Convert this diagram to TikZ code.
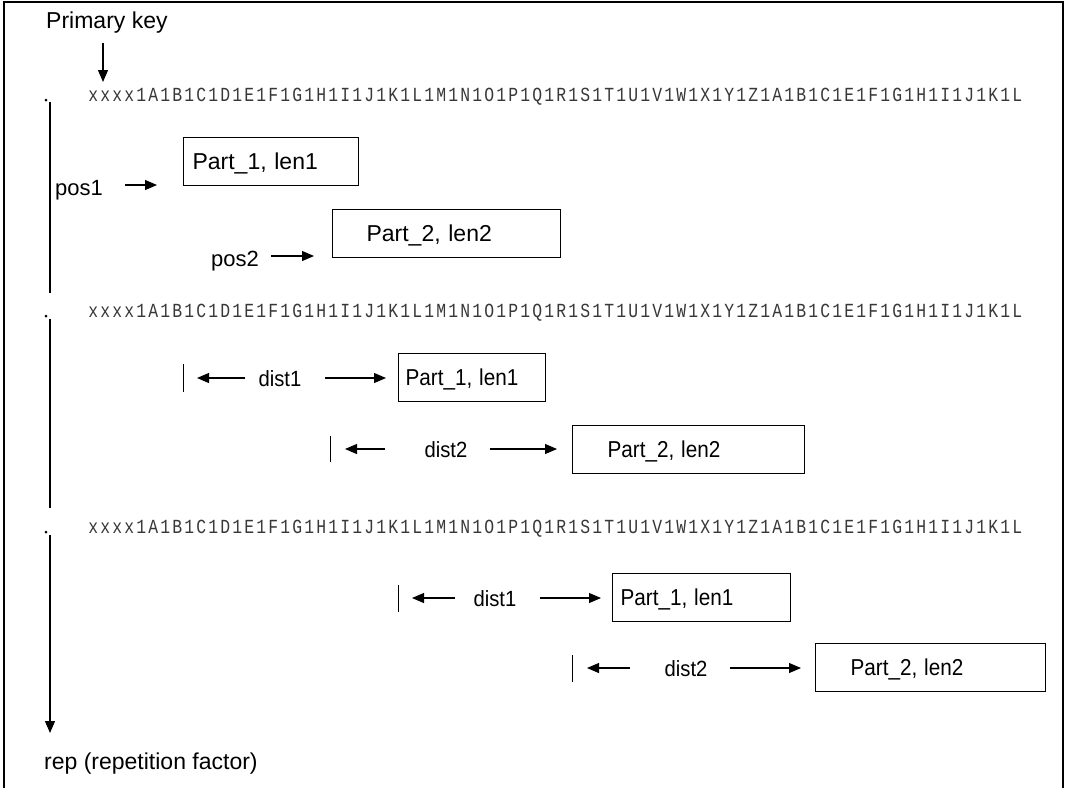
\documentclass[tikz,border=0pt]{standalone}
\usepackage{fontspec}
\setmainfont{Liberation Sans}
\newfontfamily\codefont{Liberation Mono}
\usetikzlibrary{arrows.meta}

% key string: narrow glyphs set on a fixed 12pt character pitch
\def\pitchchars#1{\ifx#1\relax\else\makebox[12pt][c]{\scalebox{0.82}[1]{#1}}\expandafter\pitchchars\fi}
\newcommand\keystring{\pitchchars xxxx1A1B1C1D1E1F1G1H1I1J1K1L1M1N1O1P1Q1R1S1T1U1V1W1X1Y1Z1A1B1C1E1F1G1H1I1J1K1L\relax}

\tikzset{
  lbl/.style={font=\fontsize{23}{27}\selectfont, inner sep=0pt, anchor=base west},
  plbl/.style={font=\fontsize{22}{26}\selectfont, inner sep=0pt, anchor=base west},
  dlbl/.style={font=\fontsize{22}{26}\selectfont, inner sep=0pt, anchor=base},
  keyline/.style={font=\codefont\fontsize{20}{22}\selectfont, text=black!78, inner sep=0pt, anchor=base west},
  partbox/.style={draw, line width=1.1pt, anchor=north west, minimum height=48pt,
    inner ysep=0pt, text depth=0pt, align=left, font=\fontsize{23}{27}\selectfont},
  ptr/.style={line width=1.1pt, -{Triangle[length=12pt,width=10pt]}},
  tick/.style={line width=0.9pt},
  axis/.style={line width=1.1pt},
}

\begin{document}
\begin{tikzpicture}[x=1pt, y=-1pt]
\useasboundingbox (0,0) rectangle (1067,788);

% open frame
\draw[line width=1.1pt] (4,788) -- (4,2) -- (1063,2) -- (1063,788);

% primary key marker
\node[lbl] (pk) at (46,28) {Primary key};
\coordinate (pktop) at (103,43);
\coordinate (pkend) at (103,82);
\draw[ptr] (pktop) -- (pkend);

% the three key lines
\node[keyline] (k1) at (87,101) {\keystring};
\node[keyline] (k2) at (87,317) {\keystring};
\node[keyline] (k3) at (87,533) {\keystring};
\fill (46,100) circle (1.5);
\fill (46,316) circle (1.5);
\fill (46,532) circle (1.5);

% repetition axis
\coordinate (a1) at (50,102);  \coordinate (b1) at (50,293);
\coordinate (a2) at (50,319);  \coordinate (b2) at (50,508);
\coordinate (a3) at (50,535);  \coordinate (b3) at (50,733);
\draw[axis] (a1) -- (b1);
\draw[axis] (a2) -- (b2);
\draw[ptr] (a3) -- (b3);
\node[lbl] (rep) at (44,769) {rep (repetition factor)};

% first repetition: absolute positions
\node[partbox, inner xsep=9pt, text width=157pt] (p11) at (183,137) {Part\_1, len1};
\node[plbl] (pos1) at (55,195) {pos1};
\coordinate (s1) at (125,185); \coordinate (e1) at (157,185);
\draw[ptr] (s1) -- (e1);

\node[partbox, inner xsep=34pt, text width=160pt] (p12) at (332,209) {Part\_2, len2};
\node[plbl] (pos2) at (211,266) {pos2};
\coordinate (s2) at (271,256); \coordinate (e2) at (314,256);
\draw[ptr] (s2) -- (e2);

% second repetition: distances
\node[partbox, inner xsep=7pt, text width=133pt] (p21) at (398,353) {\scalebox{0.9}[1]{Part\_1, len1}};
\draw[tick] (183,364) -- (183,392);
\node[dlbl] (d21) at (280,386) {\scalebox{0.92}[1]{dist1}};
\coordinate (l21) at (245,378); \coordinate (t21) at (197,378);
\coordinate (r21) at (325,378); \coordinate (u21) at (386,378);
\draw[ptr] (l21) -- (t21);
\draw[ptr] (r21) -- (u21);

\node[partbox, inner xsep=35pt, text width=162pt] (p22) at (572,425) {\scalebox{0.9}[1]{Part\_2, len2}};
\draw[tick] (330,436) -- (330,462);
\node[dlbl] (d22) at (446,457) {\scalebox{0.92}[1]{dist2}};
\coordinate (l22) at (385,449); \coordinate (t22) at (345,449);
\coordinate (r22) at (490,449); \coordinate (u22) at (557,449);
\draw[ptr] (l22) -- (t22);
\draw[ptr] (r22) -- (u22);

% third repetition
\node[partbox, inner xsep=8pt, text width=162pt] (p31) at (612,573) {\scalebox{0.9}[1]{Part\_1, len1}};
\draw[tick] (398,585) -- (398,612);
\node[dlbl] (d31) at (495,606) {\scalebox{0.92}[1]{dist1}};
\coordinate (l31) at (455,598); \coordinate (t31) at (412,598);
\coordinate (r31) at (540,598); \coordinate (u31) at (601,598);
\draw[ptr] (l31) -- (t31);
\draw[ptr] (r31) -- (u31);

\node[partbox, inner xsep=35pt, text width=160pt] (p32) at (815,643) {\scalebox{0.9}[1]{Part\_2, len2}};
\draw[tick] (572,655) -- (572,682);
\node[dlbl] (d32) at (686,676) {\scalebox{0.92}[1]{dist2}};
\coordinate (l32) at (630,668); \coordinate (t32) at (587,668);
\coordinate (r32) at (730,668); \coordinate (u32) at (801,668);
\draw[ptr] (l32) -- (t32);
\draw[ptr] (r32) -- (u32);
\end{tikzpicture}
\end{document}
